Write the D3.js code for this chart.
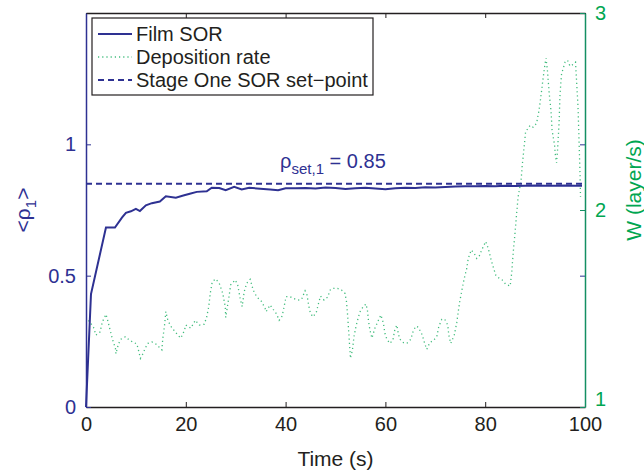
<!DOCTYPE html>
<html>
<head>
<meta charset="utf-8">
<script src="https://cdn.jsdelivr.net/npm/d3@7"></script>
<style>
  body { margin: 0; background: #fff; }
  svg text { font-family: "Liberation Sans", Arial, sans-serif; }
</style>
</head>
<body>
<div id="chart"></div>
<script>
// Film SOR (left axis)
var sorTime  = [0, 1, 4, 5.8, 7.2, 8, 9, 10, 10.8, 12, 13.2, 14.8, 16, 18, 19.5, 20.8, 22.2, 24.2, 25.2, 26.7, 28, 29.7, 31.2, 32.7, 34.9, 36.9, 38.5, 40, 42, 44, 46, 48, 50, 52, 54, 56, 58, 60, 62, 64, 66, 68, 70, 72, 74, 76, 78, 80, 82, 84, 86, 88, 90, 92, 94, 96, 98, 99.4];
var sorValue = [0, 0.43, 0.683, 0.683, 0.721, 0.739, 0.745, 0.754, 0.746, 0.768, 0.776, 0.782, 0.802, 0.797, 0.805, 0.812, 0.819, 0.821, 0.835, 0.834, 0.825, 0.838, 0.828, 0.835, 0.831, 0.828, 0.825, 0.833, 0.833, 0.834, 0.832, 0.836, 0.834, 0.830, 0.833, 0.835, 0.832, 0.829, 0.833, 0.835, 0.834, 0.837, 0.836, 0.838, 0.839, 0.840, 0.840, 0.841, 0.840, 0.842, 0.841, 0.842, 0.843, 0.842, 0.842, 0.843, 0.842, 0.842];

// deposition rate (right axis)
var depTime = [0.5, 1.5, 2.0, 2.8, 3.3, 4.0, 4.3, 4.8, 5.3, 5.9, 6.0, 6.5, 7.0, 7.9, 8.5, 9.35, 10.2, 10.5, 10.9, 11.4, 11.9, 12.4, 13.2, 14.0, 14.8, 15.2, 15.4, 15.7, 16.0, 16.4, 17.0, 17.7, 18.4, 19.0, 19.7, 20.0, 21.0, 21.9, 22.7, 23.7, 24.2, 24.6, 24.9, 25.3, 26.0, 26.7, 27.4, 27.9, 28.0, 28.7, 29.0, 29.9, 30.4, 30.9, 31.3, 31.7, 32.2, 32.9, 33.5, 34.2, 35.2, 35.9, 36.1, 36.9, 37.5, 38.2, 38.7, 39.2, 39.5, 39.9, 40.1, 40.9, 41.7, 42.5, 43.2, 43.9, 44.3, 44.6, 44.9, 45.4, 46.1, 46.6, 47.0, 47.7, 48.4, 49.0, 49.6, 50.4, 51.2, 51.9, 52.2, 52.4, 52.6, 52.8, 53.0, 53.4, 53.7, 54.1, 54.6, 55.0, 55.6, 56.1, 56.4, 56.6, 56.9, 57.3, 57.9, 58.6, 59.1, 59.6, 59.9, 60.3, 60.9, 61.5, 61.9, 62.3, 62.6, 62.9, 63.6, 64.3, 65.1, 65.6, 66.1, 66.6, 66.9, 67.4, 67.9, 68.3, 68.9, 69.6, 70.3, 70.7, 71.3, 71.9, 72.5, 72.7, 73.1, 73.8, 74.3, 74.6, 74.9, 75.4, 75.8, 76.3, 76.6, 77.2, 77.8, 78.3, 78.8, 79.3, 80.1, 80.6, 81.2, 81.6, 82.1, 82.8, 83.4, 84.1, 85.0, 85.3, 85.6, 86.0, 86.3, 86.6, 87.2, 87.4, 87.8, 88.1, 89.0, 89.6, 90.3, 90.8, 91.2, 91.6, 92.0, 92.2, 92.5, 92.8, 93.2, 93.4, 93.9, 94.1, 94.3, 94.5, 94.8, 95.0, 95.3, 96.0, 96.5, 97.0, 97.7, 98.1, 98.3, 98.6, 98.8, 99.0, 99.1];
var depRate = [1.44, 1.405, 1.365, 1.38, 1.433, 1.47, 1.445, 1.394, 1.344, 1.298, 1.27, 1.32, 1.344, 1.357, 1.344, 1.33, 1.32, 1.29, 1.247, 1.27, 1.30, 1.323, 1.33, 1.32, 1.30, 1.29, 1.35, 1.405, 1.484, 1.44, 1.41, 1.387, 1.365, 1.35, 1.387, 1.416, 1.40, 1.44, 1.416, 1.42, 1.458, 1.51, 1.577, 1.636, 1.65, 1.628, 1.577, 1.51, 1.455, 1.568, 1.62, 1.645, 1.62, 1.55, 1.51, 1.585, 1.628, 1.648, 1.594, 1.56, 1.535, 1.50, 1.484, 1.518, 1.496, 1.472, 1.44, 1.455, 1.484, 1.535, 1.56, 1.56, 1.55, 1.543, 1.546, 1.59, 1.568, 1.518, 1.484, 1.458, 1.475, 1.526, 1.563, 1.543, 1.557, 1.597, 1.602, 1.602, 1.594, 1.577, 1.535, 1.475, 1.40, 1.323, 1.247, 1.29, 1.357, 1.408, 1.458, 1.489, 1.51, 1.523, 1.492, 1.44, 1.39, 1.35, 1.40, 1.44, 1.467, 1.425, 1.374, 1.344, 1.323, 1.34, 1.394, 1.416, 1.37, 1.344, 1.327, 1.323, 1.344, 1.387, 1.41, 1.405, 1.39, 1.365, 1.32, 1.293, 1.327, 1.337, 1.357, 1.408, 1.445, 1.445, 1.416, 1.365, 1.323, 1.365, 1.428, 1.484, 1.535, 1.602, 1.653, 1.703, 1.754, 1.797, 1.78, 1.754, 1.766, 1.797, 1.84, 1.806, 1.746, 1.712, 1.67, 1.653, 1.645, 1.624, 1.614, 1.678, 1.78, 1.89, 1.983, 2.067, 2.152, 2.22, 2.32, 2.397, 2.43, 2.42, 2.44, 2.508, 2.584, 2.668, 2.744, 2.77, 2.70, 2.60, 2.50, 2.406, 2.33, 2.27, 2.24, 2.305, 2.44, 2.59, 2.69, 2.75, 2.76, 2.73, 2.74, 2.75, 2.66, 2.524, 2.355, 2.186, 2.067];

var setPoint = 0.85;
var xTicks = [0, 20, 40, 60, 80, 100];
var leftTicks = [0, 0.5, 1];
var rightTicks = [1, 2, 3];
var legendLabels = ["Film SOR", "Deposition rate", "Stage One SOR set\u2212point"];

var blue = "#2e3192", green = "#00a651", dark = "#231f20";
var margin = {top: 13, right: 59, bottom: 66, left: 86},
    width = 644 - margin.left - margin.right,
    height = 473 - margin.top - margin.bottom;

var x = d3.scaleLinear().domain([0, 100]).range([0, width]);
var yL = d3.scaleLinear().domain([0, 1.5]).range([height, 0]);
var yR = d3.scaleLinear().domain([1, 3]).range([height, 0]);

var svg = d3.select("#chart").append("svg")
    .attr("width", 644).attr("height", 473)
  .append("g")
    .attr("transform", "translate(" + margin.left + "," + margin.top + ")");

// data lines
var sorLine = d3.line().x(function(d, i) { return x(sorTime[i]); }).y(function(d) { return yL(d); });
var depLine = d3.line().x(function(d, i) { return x(depTime[i]); }).y(function(d) { return yR(d); });

svg.append("path")
   .attr("d", depLine(depRate))
   .attr("fill", "none").attr("stroke", green).attr("stroke-opacity", 0.75)
   .attr("stroke-width", 1.3).attr("stroke-dasharray", "1.2,3");

svg.append("path")
   .attr("d", sorLine(sorValue))
   .attr("fill", "none").attr("stroke", blue).attr("stroke-width", 2);

svg.append("line")
   .attr("x1", x(0)).attr("x2", x(99.6))
   .attr("y1", yL(setPoint)).attr("y2", yL(setPoint))
   .attr("stroke", blue).attr("stroke-width", 2).attr("stroke-dasharray", "6,4");

var label = svg.append("text")
   .attr("x", x(38.9)).attr("y", yL(setPoint) - 16)
   .attr("fill", blue).style("font-size", "20px");
label.append("tspan").text("\u03c1");
label.append("tspan").attr("dy", 6).style("font-size", "15px").text("set,1");
label.append("tspan").attr("dy", -6).text(" = 0.85");

// axes
function styleAxis(g, color) {
  g.select(".domain").attr("stroke", color).attr("stroke-width", 1.5);
  g.selectAll(".tick line").attr("stroke", color);
  g.selectAll(".tick text").attr("fill", color).style("font-size", "20px");
}

svg.append("g")
   .attr("transform", "translate(0," + height + ")")
   .call(d3.axisBottom(x).tickValues(xTicks).tickSizeInner(-5).tickSizeOuter(0).tickPadding(10))
   .call(styleAxis, dark);

svg.append("g")
   .call(d3.axisTop(x).tickValues(xTicks).tickSizeInner(-5).tickSizeOuter(0).tickFormat(""))
   .call(styleAxis, dark);

svg.append("g")
   .call(d3.axisLeft(yL).tickValues(leftTicks).tickSizeInner(-5).tickSizeOuter(0).tickPadding(10).tickFormat(d3.format("")))
   .call(styleAxis, blue);

svg.append("g")
   .attr("transform", "translate(" + width + ",0)")
   .call(d3.axisLeft(yL).tickValues(leftTicks).tickSizeInner(5).tickSizeOuter(0).tickFormat(""))
   .call(function(g) { g.select(".domain").remove(); g.selectAll(".tick line").attr("stroke", blue); });

svg.append("g")
   .attr("transform", "translate(" + width + ",0)")
   .call(d3.axisRight(yR).tickValues(rightTicks).tickSizeInner(-5).tickSizeOuter(0).tickPadding(10).tickFormat(d3.format("d")))
   .call(styleAxis, "#148f63")
   .call(function(g) {
     g.selectAll(".tick text").attr("fill", green);
     // lowest label sits a little higher, clear of the "100" below it
     g.selectAll(".tick text").filter(function(d) { return d === 1; }).attr("y", -8);
   });

// axis titles
svg.append("text")
   .attr("x", width / 2).attr("y", height + 59)
   .attr("text-anchor", "middle").attr("fill", dark)
   .style("font-size", "21px").text("Time (s)");

var yl = svg.append("text")
   .attr("transform", "translate(-56," + (height / 2) + ") rotate(-90)")
   .attr("text-anchor", "middle").attr("fill", blue).style("font-size", "21px");
yl.append("tspan").text("<\u03c1");
yl.append("tspan").attr("dy", 6).style("font-size", "15px").text("1");
yl.append("tspan").attr("dy", -6).text(">");

svg.append("text")
   .attr("transform", "translate(" + (width + 56) + "," + (height / 2 - 20) + ") rotate(-90)")
   .attr("text-anchor", "middle").attr("fill", green)
   .style("font-size", "21px").text("W (layer/s)");

// legend
var legend = svg.append("g").attr("transform", "translate(6,5)");
legend.append("rect")
   .attr("width", 281).attr("height", 77)
   .attr("fill", "#fff").attr("stroke", dark).attr("stroke-width", 1.2);

var legStyles = [
  {stroke: blue, dash: null, width: 2, opacity: 1},
  {stroke: green, dash: "1.2,3", width: 1.3, opacity: 0.75},
  {stroke: blue, dash: "6,4", width: 2, opacity: 1}
];

legendLabels.forEach(function(txt, i) {
  var yy = 16 + i * 23;
  legend.append("line")
     .attr("x1", 6).attr("x2", 40).attr("y1", yy).attr("y2", yy)
     .attr("stroke", legStyles[i].stroke).attr("stroke-width", legStyles[i].width)
     .attr("stroke-opacity", legStyles[i].opacity)
     .attr("stroke-dasharray", legStyles[i].dash);
  legend.append("text")
     .attr("x", 44).attr("y", yy + 7)
     .attr("fill", dark).style("font-size", "20px").text(txt);
});
</script>
</body>
</html>
